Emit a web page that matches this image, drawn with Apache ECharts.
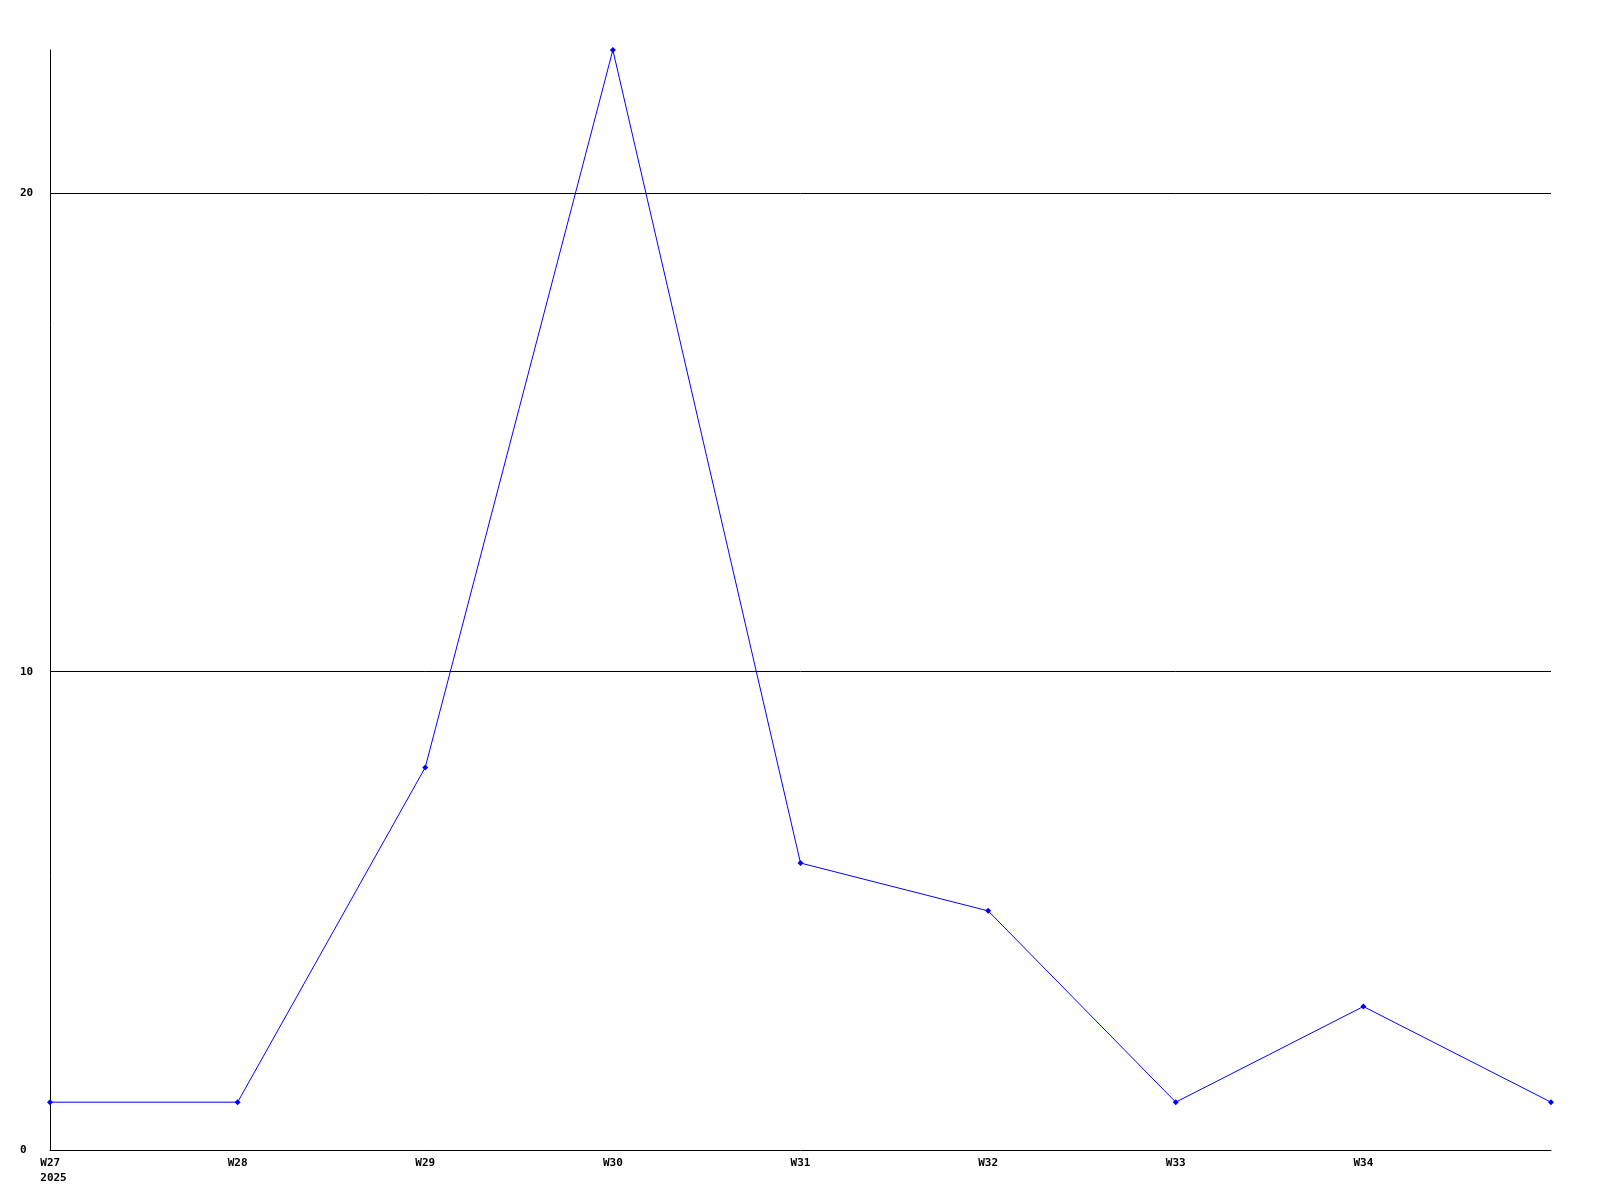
<!DOCTYPE html>
<html>
<head>
<meta charset="utf-8">
<script src="https://cdn.jsdelivr.net/npm/echarts@6/dist/echarts.min.js"></script>
<style>html,body{margin:0;padding:0;background:#fff}#c{width:1600px;height:1200px}</style>
</head>
<body>
<div id="c"></div>
<script>
const categories = ['W27', 'W28', 'W29', 'W30', 'W31', 'W32', 'W33', 'W34', 'W35'];
const values = [1, 1, 8, 23, 6, 5, 1, 3, 1];
const yearLabel = '2025';
const yTicks = [0, 10, 20];
const yGridLines = [10, 20];

const chart = echarts.init(document.getElementById('c'), null, {renderer: 'canvas'});
const font = {fontFamily: 'DejaVu Sans Mono', fontWeight: 'bold', fontSize: 11, color: '#000'};
chart.setOption({
  animation: false,
  grid: {left: 50, top: 50, right: 49, bottom: 50, containLabel: false},
  xAxis: {
    type: 'category',
    data: categories,
    boundaryGap: false,
    axisLine: {lineStyle: {color: '#000', width: 1}},
    axisTick: {show: false},
    splitLine: {show: false},
    axisLabel: Object.assign({}, font, {
      margin: 6,
      interval: 0,
      lineHeight: 15,
      formatter: function (v, i) {
        if (i === categories.length - 1) return '';
        if (i === 0) return '{p|' + v + '}\n{p|' + yearLabel + '}';
        return v;
      },
      rich: {p: Object.assign({}, font, {padding: [0, 0, 0, 7], lineHeight: 15, align: 'left'})}
    })
  },
  yAxis: {
    type: 'value',
    min: 0,
    max: 23,
    interval: 10,
    axisLine: {show: true, lineStyle: {color: '#000', width: 1}},
    axisTick: {show: false},
    splitLine: {show: false},
    axisLabel: Object.assign({}, font, {
      margin: 30,
      align: 'left',
      formatter: function (v) { return yTicks.indexOf(v) >= 0 ? String(v) : ''; }
    })
  },
  series: [{
    type: 'line',
    data: values,
    symbol: 'diamond',
    symbolSize: 6,
    showAllSymbol: true,
    lineStyle: {color: '#0000ff', width: 1},
    itemStyle: {color: '#0000ff'},
    clip: false,
    z: 3,
    markLine: {
      silent: true,
      symbol: ['none', 'none'],
      label: {show: false},
      lineStyle: {color: '#000', width: 1, type: 'solid'},
      data: yGridLines.map(function (v) { return {yAxis: v}; }),
      z: 1
    }
  }]
});
</script>
</body>
</html>
